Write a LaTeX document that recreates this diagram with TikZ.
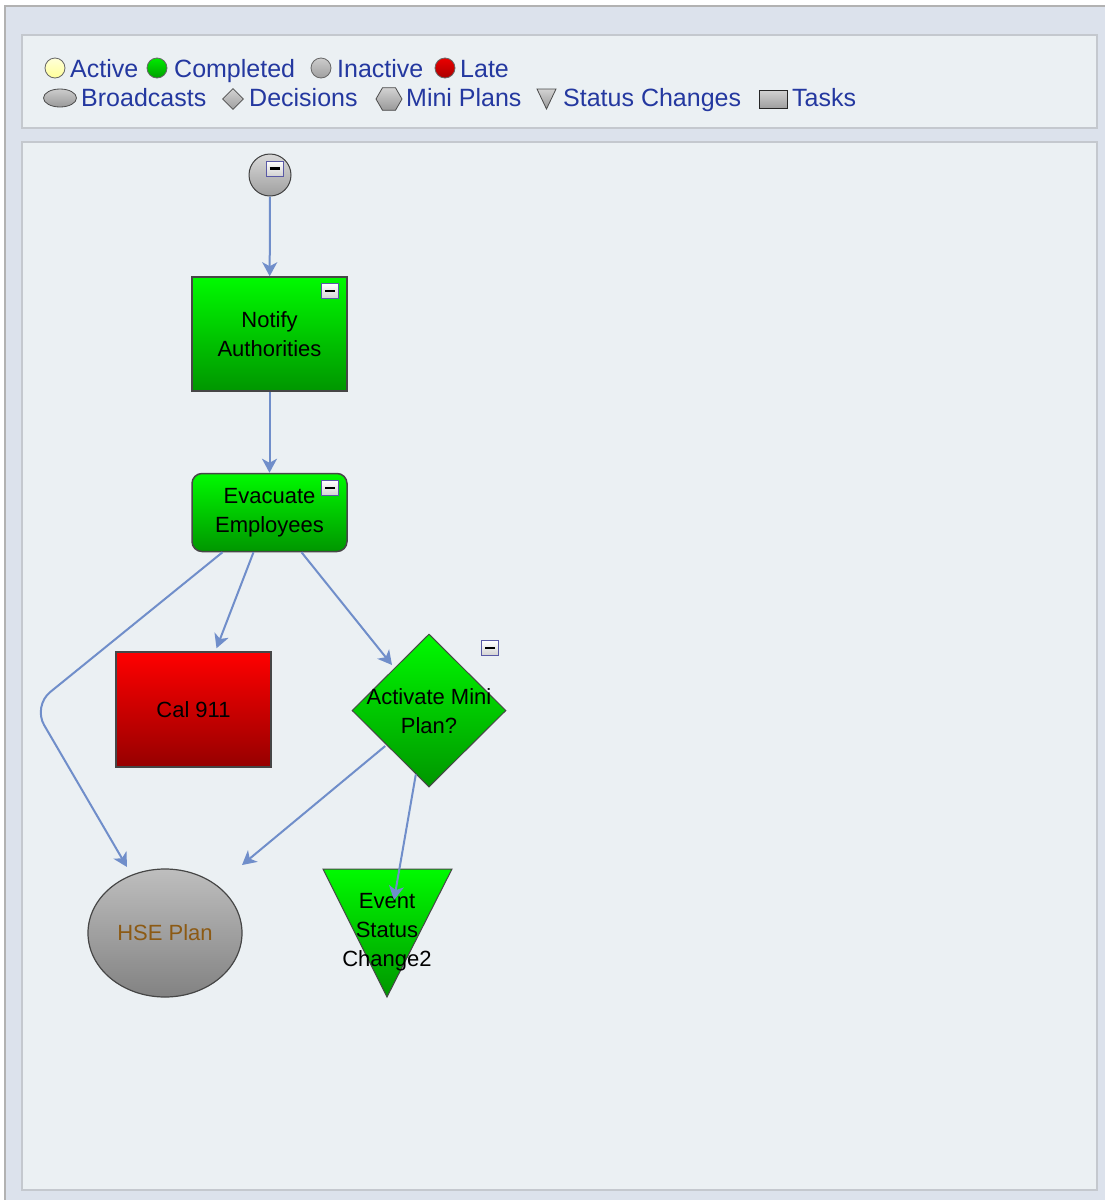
\documentclass[tikz,border=0pt]{standalone}
\usepackage{fontspec}
\setmainfont{Liberation Sans}
\usetikzlibrary{shapes.geometric,arrows.meta,calc}
\definecolor{outerbg}{RGB}{220,226,236}
\definecolor{panelbg}{RGB}{235,240,243}
\definecolor{panelline}{RGB}{196,200,206}
\definecolor{legblue}{RGB}{36,56,160}
\definecolor{conncol}{RGB}{112,142,202}
\definecolor{gtop}{RGB}{0,250,0}
\definecolor{gbot}{RGB}{0,150,0}
\definecolor{rtop}{RGB}{255,0,0}
\definecolor{rbot}{RGB}{150,0,0}
\definecolor{ytop}{RGB}{190,190,190}
\definecolor{ybot}{RGB}{130,130,130}
\definecolor{hsetext}{RGB}{140,90,20}
\definecolor{nodeline}{RGB}{70,70,70}
\begin{document}
\begin{tikzpicture}[x=1pt,y=-1pt,
  panel/.style={fill=panelbg,draw=panelline,line width=2pt},
  legtext/.style={anchor=base west,inner sep=0pt,text=legblue,font=\fontsize{25}{30}\selectfont},
  nodetext/.style={font=\fontsize{22}{29}\selectfont,align=center,text=black},
  greenbox/.style={nodetext,draw=nodeline,line width=1.5pt,top color=gtop,bottom color=gbot,inner sep=0pt},
  redbox/.style={nodetext,draw=nodeline,line width=1.5pt,top color=rtop,bottom color=rbot,inner sep=0pt},
  graybox/.style={nodetext,draw=nodeline,line width=1.2pt,top color=ytop,bottom color=ybot,inner sep=0pt},
  legball/.style={circle,inner sep=0pt,minimum size=20pt,draw=gray!80!black,line width=0.8pt},
  minusbox/.style={rectangle,inner sep=0pt,minimum width=17pt,minimum height=15pt,
     draw=gray!70!blue,line width=0.8pt,top color=white,bottom color=gray!35,
     path picture={\draw[line width=2.6pt,black] ([xshift=-5pt]path picture bounding box.center) -- ([xshift=5pt]path picture bounding box.center);}},
  conn/.style={draw=conncol,line width=2pt,-{Stealth[length=14pt,width=15pt,inset=4pt]}}
]
\useasboundingbox (0,0) rectangle (1104,1200);
\fill[white] (0,0) rectangle (1104,1200);
\path[fill=outerbg,draw=gray!60,line width=1.5pt] (5,6) rectangle (1112,1210);
% panels
\path[panel] (22,35) rectangle (1097,128);
\path[panel] (22,142) rectangle (1097,1190);
% legend row 1
\node[legball,top color=yellow!15,bottom color=yellow!40] (lb1) at (55,68) {};
\node[legtext] (lt1) at (70,77.5) {Active};
\node[legball,top color={rgb,255:red,0;green,235;blue,0},bottom color={rgb,255:red,0;green,160;blue,0}] (lb2) at (157,68) {};
\node[legtext] (lt2) at (174,77.5) {Completed};
\node[legball,top color=gray!40,bottom color=gray!75] (lb3) at (321,68) {};
\node[legtext] (lt3) at (337,77.5) {Inactive};
\node[legball,top color={rgb,255:red,235;green,0;blue,0},bottom color={rgb,255:red,170;green,0;blue,0}] (lb4) at (445,68) {};
\node[legtext] (lt4) at (460,77.5) {Late};
% legend row 2
\node[ellipse,inner sep=0pt,minimum width=33pt,minimum height=18pt,draw=gray!60!black,line width=0.8pt,top color=gray!40,bottom color=gray!80] (lb5) at (60,98) {};
\node[legtext] (lt5) at (81,106.5) {Broadcasts};
\node[diamond,inner sep=0pt,minimum width=21pt,minimum height=21pt,draw=gray!60!black,line width=0.8pt,top color=gray!35,bottom color=gray!75] (lb6) at (233,99) {};
\node[legtext] (lt6) at (249,106.5) {Decisions};
\node[regular polygon,regular polygon sides=6,inner sep=0pt,minimum size=26pt,draw=gray!60!black,line width=0.8pt,top color=gray!35,bottom color=gray!80] (lb7) at (389,99) {};
\node[legtext] (lt7) at (406,106.5) {Mini Plans};
\path[draw=gray!60!black,line width=0.8pt,top color=gray!35,bottom color=gray!80] (537,89) -- (556,89) -- (546.5,109) -- cycle;
\node[legtext] (lt8) at (563,106.5) {Status Changes};
\node[rectangle,inner sep=0pt,minimum width=28pt,minimum height=18pt,draw=gray!30!black,line width=0.8pt,top color=gray!35,bottom color=gray!75] (lb9) at (773,99) {};
\node[legtext] (lt9) at (792,106.5) {Tasks};
% start
\node[circle,inner sep=0pt,minimum size=42pt,draw=gray!50!black,line width=1pt,top color=gray!30,bottom color=gray!75] (start) at (270,175) {};
\node[minusbox] (m0) at (274.5,168.5) {};
% tasks
\node[greenbox,minimum width=155pt,minimum height=114pt] (notify) at (269.5,334) {Notify\\Authorities};
\node[minusbox] (m1) at (330,291) {};
\node[greenbox,rounded corners=10pt,minimum width=155pt,minimum height=78pt] (evac) at (269.5,512.5) {Evacuate\\Employees};
\node[minusbox] (m2) at (330,488) {};
\node[redbox,minimum width=155pt,minimum height=115pt] (cal) at (193.5,709.5) {Cal 911};
\node[diamond,inner sep=0pt,minimum width=154pt,minimum height=153pt,draw=nodeline,line width=1pt,top color=gtop,bottom color=gbot] (act) at (429,710.5) {};
\node[nodetext,inner sep=0pt] (acttext) at (429,711) {Activate Mini\\Plan?};
\node[minusbox] (m3) at (490,648) {};
\node[ellipse,graybox,minimum width=154pt,minimum height=128pt,text=hsetext] (hse) at (165,933) {HSE Plan};
\path[draw=nodeline,line width=1pt,top color=gtop,bottom color=gbot] (323,869) -- (452,869) -- (387,997) -- cycle;
\node[nodetext,inner sep=0pt] (esc) at (387,932) {Event\\Status\\Change2};
% connector ends
\coordinate (t4) at (392,665);
\coordinate (bend) at (33,706);
\coordinate (t5) at (127,867);
\coordinate (t6) at (242,865);
\coordinate (t7) at (394,900);
% connectors
\draw[conn] (start) -- (notify);
\draw[conn] (notify) -- (evac);
\draw[conn] ([xshift=-16pt]evac.south) -- ([xshift=23pt,yshift=3pt]cal.north);
\draw[conn] ([xshift=32pt]evac.south) -- (t4);
\draw[conn,rounded corners=22pt] ([xshift=-47pt]evac.south) -- (bend) -- (t5);
\draw[conn] ([xshift=-5pt,yshift=3pt]act.south west) -- (t6);
\draw[conn] ($(act.south west)!0.66!(act.south)$) -- (t7);
\end{tikzpicture}
\end{document}
